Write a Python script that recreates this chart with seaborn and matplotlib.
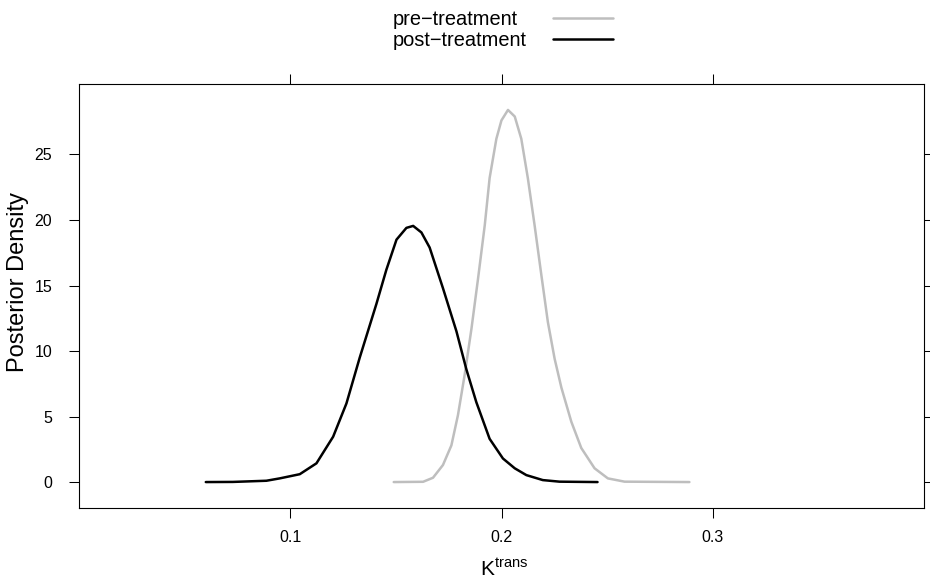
import numpy as np
import pandas as pd
import matplotlib
matplotlib.use("Agg")
import matplotlib.pyplot as plt
from matplotlib.lines import Line2D
import seaborn as sns

# ---- data ----
groups = ["pre\u2212treatment", "post\u2212treatment"]
colors = ["#BEBEBE", "#000000"]

pre_x = [0.1489, 0.1628, 0.1675, 0.1722, 0.1762, 0.1793, 0.1825, 0.1857, 0.1888,
         0.1920, 0.1943, 0.1975, 0.1999, 0.2030, 0.2062, 0.2093, 0.2124, 0.2156,
         0.2188, 0.2219, 0.2251, 0.2283, 0.2330, 0.2377, 0.2440, 0.2503, 0.2582, 0.2889]
pre_y = [0.0, 0.02, 0.33, 1.3, 2.8, 5.1, 8.2, 11.7, 15.5,
         19.6, 23.2, 26.2, 27.6, 28.4, 27.9, 26.2, 23.2, 19.6,
         15.8, 12.2, 9.4, 7.2, 4.6, 2.6, 1.05, 0.28, 0.03, 0.0]

post_x = [0.0599, 0.0727, 0.0886, 0.0949, 0.1044, 0.1123, 0.1202, 0.1265, 0.1328,
          0.1407, 0.1454, 0.1502, 0.1549, 0.1581, 0.1620, 0.1659, 0.1722, 0.1786,
          0.1833, 0.1880, 0.1943, 0.2006, 0.2062, 0.2117, 0.2195, 0.2274, 0.2454]
post_y = [0.0, 0.01, 0.1, 0.28, 0.6, 1.43, 3.46, 6.0, 9.5,
          13.6, 16.2, 18.5, 19.4, 19.55, 19.05, 17.9, 14.8, 11.5,
          8.6, 6.1, 3.3, 1.8, 1.05, 0.53, 0.15, 0.03, 0.0]

x_ticks = [0.1, 0.2, 0.3]
x_tick_labels = ["0.1", "0.2", "0.3"]
y_ticks = [0, 5, 10, 15, 20, 25]
y_tick_labels = ["0", "5", "10", "15", "20", "25"]

# ---- styling ----
sns.set_theme(style="white")
plt.rcParams['font.family'] = ['Liberation Sans', 'DejaVu Sans']
plt.rcParams['mathtext.fontset'] = 'custom'
plt.rcParams['mathtext.rm'] = 'Liberation Sans'
plt.rcParams['mathtext.it'] = 'Liberation Sans:italic'
plt.rcParams['mathtext.bf'] = 'Liberation Sans:bold'

df = pd.concat([
    pd.DataFrame({"K": pre_x, "density": pre_y, "group": groups[0]}),
    pd.DataFrame({"K": post_x, "density": post_y, "group": groups[1]}),
], ignore_index=True)

W, H = 930, 583
fig = plt.figure(figsize=(W / 100, H / 100), dpi=100)
L, R, T, B = 79.3, 924.0, 84.0, 508.0
ax = fig.add_axes([L / W, 1 - B / H, (R - L) / W, (B - T) / H])

sns.lineplot(data=df, x="K", y="density", hue="group", hue_order=groups,
             palette=dict(zip(groups, colors)), linewidth=1.8, legend=False,
             errorbar=None, ax=ax)

ax.set_xlim(0.0, 0.4)
ax.set_ylim(-1.98, 30.38)
ax.set_xticks(x_ticks)
ax.set_xticklabels(x_tick_labels)
ax.set_yticks(y_ticks)
ax.set_yticklabels(y_tick_labels)

for s in ax.spines.values():
    s.set_visible(True)
    s.set_color("black")
    s.set_linewidth(0.8)

ax.tick_params(axis="both", which="major", direction="out", length=7.5, width=0.75,
               color="black", labelcolor="black", labelsize=11.5,
               bottom=True, top=True, left=True, right=True,
               labelbottom=True, labeltop=False, labelleft=True, labelright=False)
ax.tick_params(axis="x", pad=8)
ax.tick_params(axis="y", pad=12)

ax.set_ylabel("Posterior Density", fontsize=17, color="black")
ax.yaxis.set_label_coords(-0.060, 0.534)
ax.set_xlabel(r"$\mathrm{K}^{\mathrm{trans}}$", fontsize=15, color="black")
ax.xaxis.set_label_coords(0.503, -0.118)

# ---- legend (text column then line column, as in the reference) ----
text_x = 392.7
line_x0, line_x1 = 553.3, 612.7
rows_text = [25.0, 46.0]
rows_line = [17.5, 39.0]
for g, c, ty, ly in zip(groups, colors, rows_text, rows_line):
    fig.text(text_x / W, 1 - ty / H, g, ha="left", va="baseline", fontsize=14.4, color="black")
    fig.add_artist(Line2D([line_x0 / W, line_x1 / W], [1 - ly / H, 1 - ly / H],
                          color=c, linewidth=1.8, transform=fig.transFigure))

fig.savefig("out.png", dpi=100)
